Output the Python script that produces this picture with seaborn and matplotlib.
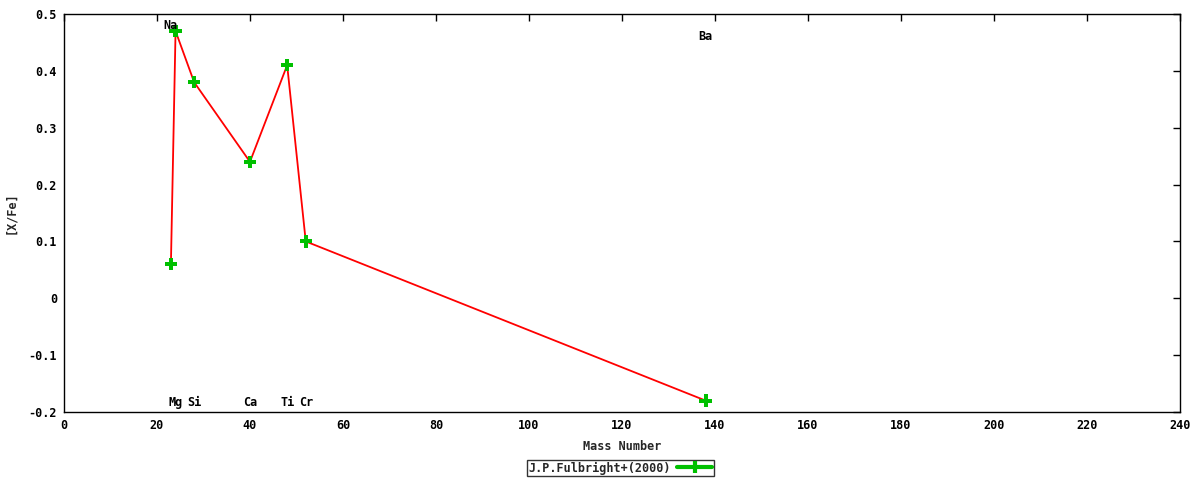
import numpy as np
import pandas as pd
import matplotlib
matplotlib.use("Agg")
import matplotlib.pyplot as plt
import seaborn as sns
from matplotlib.lines import Line2D

# data
elements = ["Na", "Mg", "Si", "Ca", "Ti", "Cr", "Ba"]
mass_number = [23, 24, 28, 40, 48, 52, 138]
x_fe = [0.06, 0.47, 0.38, 0.24, 0.41, 0.10, -0.18]
label_y = [0.48, -0.183, -0.183, -0.183, -0.183, -0.183, 0.46]
series_name = "J.P.Fulbright+(2000)"

df = pd.DataFrame({"mass": mass_number, "xfe": x_fe, "el": elements})

sns.set_style("white")
plt.rcParams["font.family"] = ["DejaVu Sans Mono"]
plt.rcParams["font.weight"] = "bold"
plt.rcParams["font.size"] = 8.5
plt.rcParams["axes.unicode_minus"] = False

fig = plt.figure(figsize=(12, 4.8), dpi=100)
ax = fig.add_axes([0.0533, 0.1417, 0.93, 0.8291])

sns.lineplot(data=df, x="mass", y="xfe", color="red", linewidth=1.3,
             sort=False, ax=ax, legend=False)
sns.scatterplot(data=df, x="mass", y="xfe", marker="P", s=80, color="#00c000",
                edgecolor="none", ax=ax, zorder=3, legend=False)

for el, mx, ly in zip(elements, mass_number, label_y):
    ax.text(mx, ly, el, ha="center", va="center", fontsize=8.5,
            fontweight="bold", color="black")

ax.set_xlim(0, 240)
ax.set_ylim(-0.2, 0.5)
ax.set_xticks(np.arange(0, 241, 20))
ax.set_yticks(np.arange(-0.2, 0.51, 0.1))
ax.set_yticklabels(["-0.2", "-0.1", "0", "0.1", "0.2", "0.3", "0.4", "0.5"])
ax.tick_params(direction="in", length=5, width=1, top=True, right=True,
               labelsize=8.5, colors="black", pad=5)
for sp in ax.spines.values():
    sp.set_color("black")
    sp.set_linewidth(1)

ax.set_xlabel("Mass Number", fontsize=8.5, fontweight="bold", labelpad=6)
ax.set_ylabel("[X/Fe]", fontsize=8.5, fontweight="bold", labelpad=8)

handle = Line2D([0], [0], color="#00c000", linewidth=3, marker="|",
                markersize=9, markeredgewidth=3)
leg = fig.legend([handle], [series_name], loc="center",
                 bbox_to_anchor=(0.517, 0.025), frameon=True, fancybox=False,
                 markerfirst=False, fontsize=8.5, borderpad=0.15,
                 handlelength=3, handletextpad=0.5, borderaxespad=0)
leg.get_frame().set_edgecolor("black")
leg.get_frame().set_linewidth(1)

fig.savefig("out.png", dpi=100)
